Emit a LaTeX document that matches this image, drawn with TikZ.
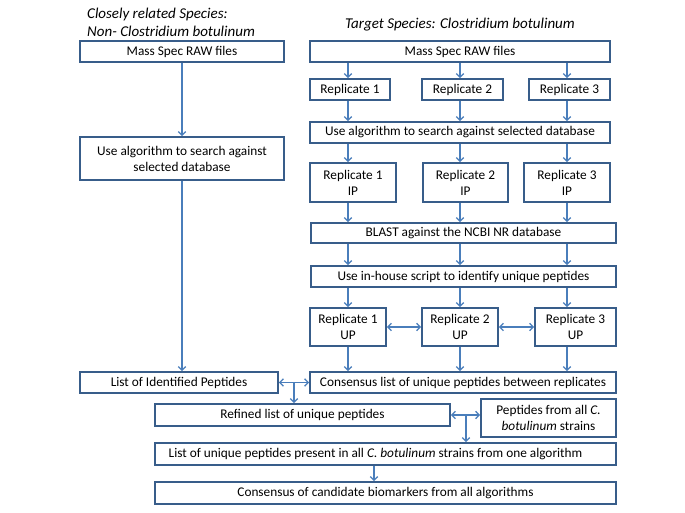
\documentclass[tikz,border=0pt]{standalone}
\usepackage{fontspec}
\setmainfont{Carlito}
\usetikzlibrary{arrows.meta,calc}
\definecolor{boxc}{HTML}{385D8A}
\definecolor{arrc}{HTML}{4A7EBB}
\tikzset{
  bx/.style={draw=boxc, line width=2pt, fill=white, inner sep=0pt, align=center,
    font=\fontsize{13.3}{16}\selectfont, text=black},
  arr/.style={draw=arrc, line width=1.3pt, -{Straight Barb[length=3.5pt,width=7.5pt]}},
  darr/.style={draw=arrc, line width=1.3pt, {Straight Barb[length=3.5pt,width=7.5pt]}-{Straight Barb[length=3.5pt,width=7.5pt]}},
  ttl/.style={font=\fontsize{15}{18}\selectfont\itshape, text=black, inner sep=0pt}
}
\newcommand{\bxat}[6]{\node[bx, minimum width=#4pt, minimum height=#5pt] (#1) at (#2,#3) {#6};}
\begin{document}
\begin{tikzpicture}[x=1pt,y=-1pt]
\useasboundingbox (0,0) rectangle (685,513);
% titles
\node[ttl, anchor=west, align=left] (tl) at (87,22) {Closely related Species:\\Non- Clostridium botulinum};
\node[ttl] (tr) at (460,25) {Target Species: Clostridium botulinum};
% left column
\bxat{lms}{182}{51.5}{204}{21}{Mass Spec RAW files}
\bxat{luse}{182}{158.5}{204}{43}{Use algorithm to search against\\selected database}
\bxat{lid}{179}{382.5}{198}{21}{List of Identified Peptides}
% right column
\bxat{rms}{460}{51.5}{300}{21}{Mass Spec RAW files}
\bxat{r1}{350}{89.5}{80}{21}{Replicate 1}
\bxat{r2}{462.5}{89.5}{81}{21}{Replicate 2}
\bxat{r3}{569.5}{89.5}{81}{21}{Replicate 3}
\bxat{ruse}{460}{132.5}{300}{21}{Use algorithm to search against selected database}
\bxat{ip1}{353}{182.5}{86}{39}{Replicate 1\\IP}
\bxat{ip2}{465.5}{182.5}{85}{39}{Replicate 2\\IP}
\bxat{ip3}{567}{182.5}{86}{39}{Replicate 3\\IP}
\bxat{blast}{463.5}{233}{305}{20}{BLAST against the NCBI NR database}
\bxat{inh}{463.5}{276.5}{305}{21}{Use in-house script to identify unique peptides}
\bxat{up1}{348}{327}{76}{38}{Replicate 1\\UP}
\bxat{up2}{460}{327}{76}{38}{Replicate 2\\UP}
\bxat{up3}{575.5}{327}{81}{38}{Replicate 3\\UP}
\bxat{cons}{463}{382.5}{306}{21}{Consensus list of unique peptides between replicates}
\bxat{ref}{302.5}{415}{295}{22}{Refined list of unique peptides}
\bxat{pep}{548.5}{418}{135}{38}{Peptides from all \textit{C.}\\\textit{botulinum} strains}
\bxat{lu}{385.5}{454}{461}{22}{\hspace*{-20pt}List of unique peptides present in all \textit{C. botulinum} strains from one algorithm}
\bxat{cand}{385.5}{493}{461}{22}{Consensus of candidate biomarkers from all algorithms}
% column coordinates
\coordinate (c1) at (348,0);
\coordinate (c2) at (460,0);
\coordinate (c3) at (567,0);
% left arrows
\draw[arr] (lms.south) -- (luse.north -| lms.south);
\draw[arr] (luse.south) -- (lid.north -| luse.south);
% right arrows
\foreach \c/\n in {c1/r1,c2/r2,c3/r3}{
  \draw[arr] (rms.south -| \c) -- (\n.north -| \c);
  \draw[arr] (\n.south -| \c) -- (ruse.north -| \c);
}
\foreach \c/\n in {c1/ip1,c2/ip2,c3/ip3}{
  \draw[arr] (ruse.south -| \c) -- (\n.north -| \c);
  \draw[arr] (\n.south -| \c) -- (blast.north -| \c);
}
\foreach \c in {c1,c2,c3}{
  \draw[arr] (blast.south -| \c) -- (inh.north -| \c);
}
\foreach \c/\n in {c1/up1,c2/up2,c3/up3}{
  \draw[arr] (inh.south -| \c) -- (\n.north -| \c);
  \draw[arr] (\n.south -| \c) -- (cons.north -| \c);
}
\draw[darr] (up1.east) -- (up2.west);
\draw[darr] (up2.east) -- (up3.west);
% lower arrows
\draw[darr] (lid.east) -- (cons.west);
\coordinate (j1) at (294,382.5);
\draw[arr] (j1) -- (ref.north -| j1);
\draw[darr] (ref.east) -- (ref.east -| pep.west);
\coordinate (j2) at (466,415);
\draw[arr] (j2) -- (lu.north -| j2);
\coordinate (j3) at (374,0);
\draw[arr] (lu.south -| j3) -- (cand.north -| j3);
\end{tikzpicture}
\end{document}
